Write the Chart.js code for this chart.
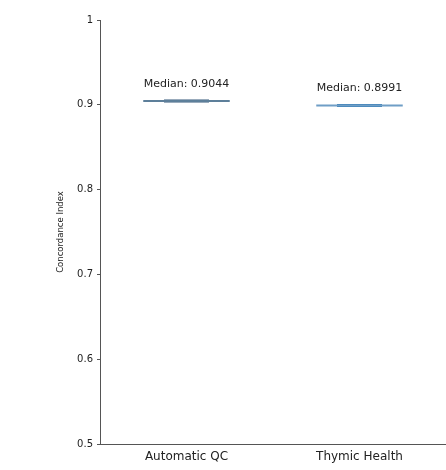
<!DOCTYPE html>
<html>
<head>
<meta charset="utf-8">
<script src="https://cdn.jsdelivr.net/npm/chart.js@4"></script>
<style>
  html, body { margin: 0; padding: 0; background: #fff; }
  #wrap { width: 446px; height: 470px; }
</style>
</head>
<body>
<div id="wrap"><canvas id="c" width="446" height="470"></canvas></div>
<script>
// groups and their concordance index medians
const categories = ['Automatic QC', 'Thymic Health'];
const medians = [0.9044, 0.8991];
const medianLabels = ['Median: 0.9044', 'Median: 0.8991'];
const yTicks = [0.5, 0.6, 0.7, 0.8, 0.9, 1];

// look of the flattened violins
const outerHalf = 0.25;   // category units
const innerHalf = 0.13;
const outerColors = ['#5d7f9a', '#6f9ec6'];
const innerColors = ['#34597a', '#2f78b4'];

const datasets = [];
categories.forEach((cat, i) => {
    const cx = i + 0.5;
    datasets.push({
        label: cat + ' range',
        data: [{ x: cx - outerHalf, y: medians[i] }, { x: cx + outerHalf, y: medians[i] }],
        borderColor: outerColors[i],
        borderWidth: 2,
        pointRadius: 0
    });
    datasets.push({
        label: cat + ' core',
        data: [{ x: cx - innerHalf, y: medians[i] }, { x: cx + innerHalf, y: medians[i] }],
        borderColor: innerColors[i],
        borderWidth: 3,
        pointRadius: 0
    });
});

// writes the median text above each group
const medianText = {
    id: 'medianText',
    afterDatasetsDraw(chart) {
        const ctx = chart.ctx;
        const xs = chart.scales.x, ys = chart.scales.y;
        ctx.save();
        ctx.fillStyle = '#222';
        ctx.font = '11px "DejaVu Sans"';
        ctx.textAlign = 'center';
        ctx.textBaseline = 'alphabetic';
        categories.forEach((cat, i) => {
            const px = xs.getPixelForValue(i + 0.5);
            const py = ys.getPixelForValue(medians[i]);
            ctx.fillText(medianLabels[i], px, py - 14 + i * -1);
        });
        ctx.restore();
    }
};

new Chart(document.getElementById('c'), {
    type: 'line',
    data: { datasets: datasets },
    plugins: [medianText],
    options: {
        responsive: false,
        animation: false,
        layout: { padding: { top: 20, right: 0, left: 0, bottom: 0 } },
        plugins: { legend: { display: false }, tooltip: { enabled: false } },
        scales: {
            x: {
                type: 'linear',
                min: 0,
                max: 2,
                afterBuildTicks: (scale) => { scale.ticks = categories.map((c, i) => ({ value: i + 0.5 })); },
                afterFit: (scale) => { scale.height = 26; },
                grid: { display: false, drawTicks: false },
                border: { display: true, color: '#555', width: 1 },
                ticks: {
                    color: '#222',
                    padding: 6,
                    maxRotation: 0,
                    font: { family: 'DejaVu Sans', size: 12 },
                    callback: (v) => categories[Math.round(v - 0.5)] || ''
                }
            },
            y: {
                min: 0.5,
                max: 1,
                afterBuildTicks: (scale) => { scale.ticks = yTicks.map(v => ({ value: v })); },
                afterFit: (scale) => { scale.width = 100; },
                grid: { drawOnChartArea: false, drawTicks: true, tickLength: 3, color: '#555' },
                border: { display: true, color: '#555', width: 1 },
                ticks: {
                    color: '#222',
                    padding: 4,
                    font: { family: 'DejaVu Sans', size: 10 },
                    callback: (v) => v === 1 ? '1' : v.toFixed(1)
                },
                title: {
                    display: true,
                    text: 'Concordance Index',
                    color: '#222',
                    font: { family: 'DejaVu Sans', size: 8.5 },
                    padding: { top: 56, bottom: 0 }
                }
            }
        }
    }
});
</script>
</body>
</html>
